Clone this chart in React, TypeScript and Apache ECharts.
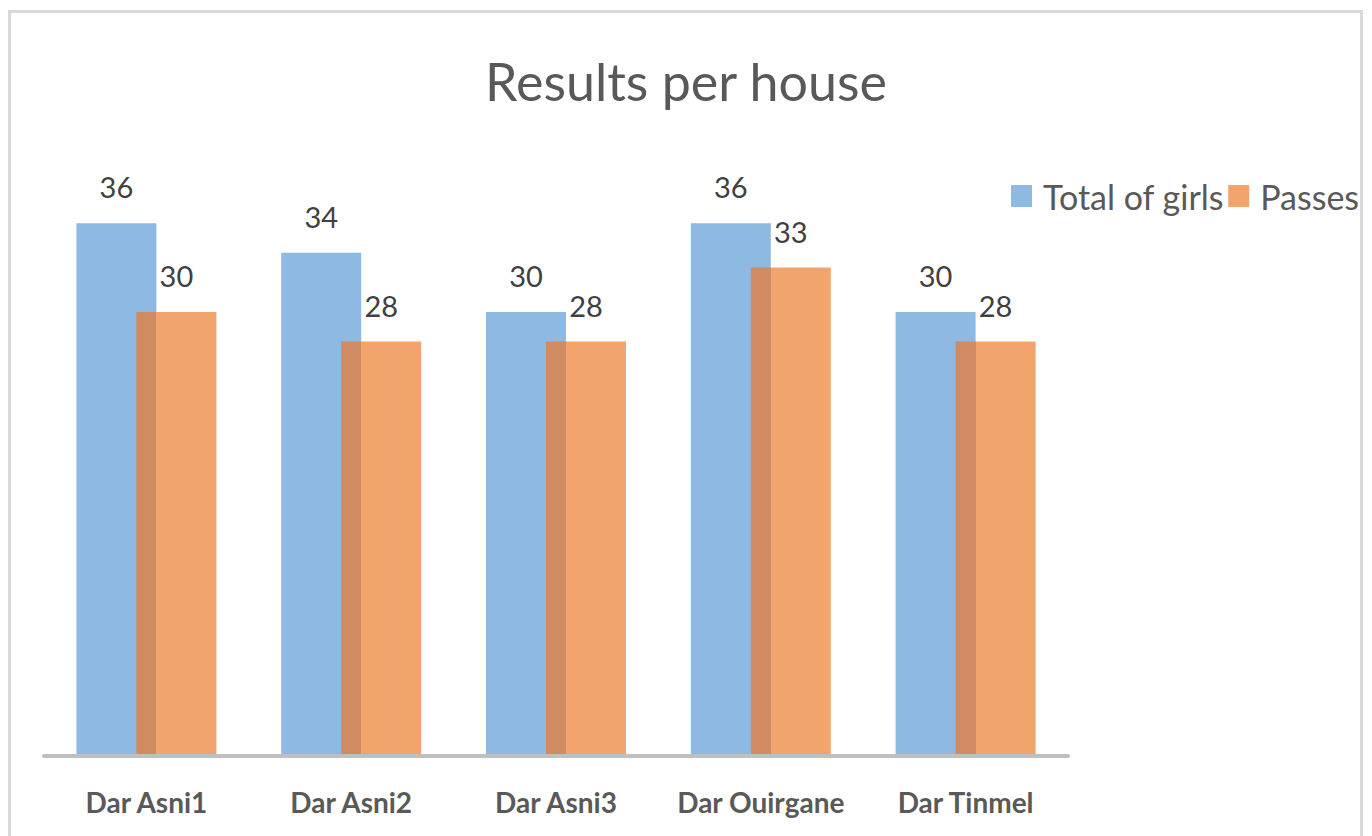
import React, { useEffect, useRef } from "react";
import * as echarts from "echarts";

const categories = ["Dar Asni1", "Dar Asni2", "Dar Asni3", "Dar Ouirgane", "Dar Tinmel"];
const totalGirls = [36, 34, 30, 36, 30];
const passes = [30, 28, 28, 33, 28];
const seriesNames = ["Total of girls", "Passes"];
const titleText = "Results per house";

const FONT = 'Lato, "Noto Sans", sans-serif';
const BLUE = "#8db9e3";
const ORANGE = "#f2a46d";
const OVERLAP = "#d08b63";

export default function App() {
  const ref = useRef<HTMLDivElement>(null);
  useEffect(() => {
    document.body.style.margin = "0";
    const chart = echarts.init(ref.current!, null, { renderer: "svg" });
    const orangeGradient = new echarts.graphic.LinearGradient(0, 0, 1, 0, [
      { offset: 0, color: OVERLAP },
      { offset: 0.25, color: OVERLAP },
      { offset: 0.25, color: ORANGE },
      { offset: 1, color: ORANGE },
    ]);
    const dataLabel = {
      show: true,
      position: "top",
      distance: 22,
      fontFamily: FONT,
      fontSize: 29,
      color: "#404040",
    };
    chart.setOption({
      animation: false,
      backgroundColor: "#ffffff",
      title: {
        text: titleText,
        left: "center",
        top: 50,
        textStyle: { fontFamily: FONT, fontSize: 52, fontWeight: "normal", color: "#595959" },
      },
      legend: {
        orient: "horizontal",
        left: 1006,
        top: 174,
        width: 600,
        itemWidth: 21,
        itemHeight: 22,
        itemGap: 4,
        icon: "rect",
        data: [
          { name: seriesNames[0], itemStyle: { color: BLUE } },
          { name: seriesNames[1], itemStyle: { color: ORANGE } },
        ],
        textStyle: { fontFamily: FONT, fontSize: 34, color: "#595959", padding: [0, 0, 0, 6] },
      },
      graphic: [
        {
          type: "rect",
          shape: { x: 9.5, y: 11.5, width: 1352, height: 900 },
          style: { fill: "none", stroke: "#d9d9d9", lineWidth: 3 },
          silent: true,
        },
      ],
      grid: { left: 44, right: 304, top: 164, bottom: 80 },
      xAxis: {
        type: "category",
        data: categories,
        z: 3,
        axisLine: { show: true, lineStyle: { color: "#bfbfbf", width: 4 } },
        axisTick: { show: false },
        axisLabel: {
          interval: 0,
          margin: 32,
          fontFamily: FONT,
          fontSize: 28,
          fontWeight: "bold",
          color: "#595959",
        },
      },
      yAxis: {
        type: "value",
        min: 0,
        max: 40,
        show: false,
        splitLine: { show: false },
      },
      series: [
        {
          name: seriesNames[0],
          type: "bar",
          data: totalGirls,
          barWidth: 80,
          barGap: "-25%",
          itemStyle: { color: BLUE },
          label: dataLabel,
        },
        {
          name: seriesNames[1],
          type: "bar",
          data: passes,
          barWidth: 80,
          barGap: "-25%",
          itemStyle: { color: orangeGradient },
          label: dataLabel,
        },
      ],
    });
    return () => chart.dispose();
  }, []);
  return <div ref={ref} style={{ width: 1372, height: 836 }} />;
}
